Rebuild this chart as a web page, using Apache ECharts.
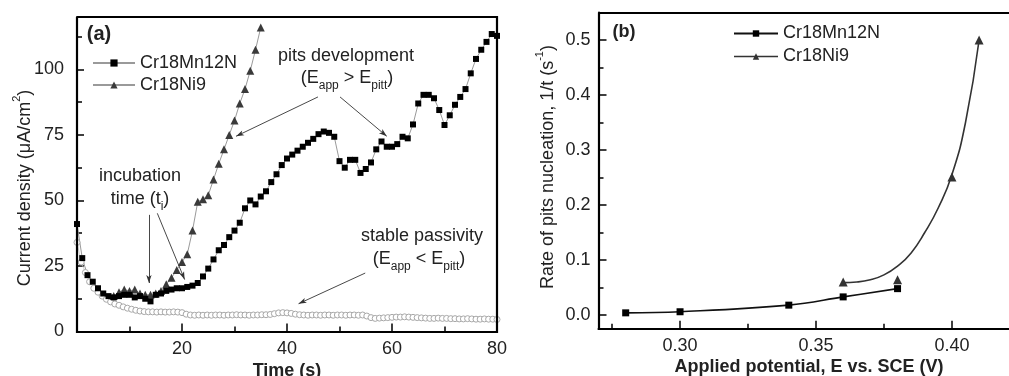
<!DOCTYPE html>
<html><head><meta charset="utf-8">
<script src="https://cdn.jsdelivr.net/npm/echarts@6/dist/echarts.min.js"></script>
<style>html,body{margin:0;padding:0;background:#fff}#c{width:1009px;height:376px}</style>
</head><body><div id="c"></div>
<script>
const FONT = "'Liberation Sans', Arial, sans-serif";
const TXT = '#222';

// ---------- Panel (a): current density vs time ----------
const mnTime = [0,1,2,3,4,5,6,7,8,9,10,11,12,13,14,15,16,17,18,19,20,21,22,23,24,25,26,27,28,29,30,31,32,33,34,35,36,37,38,39,40,41,42,43,44,45,46,47,48,49,50,51,52,53,54,55,56,57,58,59,60,61,62,63,64,65,66,67,68,69,70,71,72,73,74,75,76,77,78,79,80];
const mnCurrent = [41,28,21.5,19,16.5,14.5,13.5,13,13.5,14,
  14,13,13.5,12.5,11.5,14,14.5,15.5,16,16.5,
  16.5,17,17.5,18.5,21,24,27.5,31,33,36,
  38.5,41.5,47,50,48.5,51.5,53.5,57,60,63.5,
  66,67.5,69,70.5,72,73.5,75.3,76.3,75.8,74.3,
  65,62.5,65.5,65.5,60.5,62,64.5,69.5,72.5,70.5,
  70.5,71.5,74.3,73.7,79,87,90.3,90.3,89,84.5,
  78.8,82.5,86.5,89.5,92.5,98.5,104,107.5,110.5,113.5,
  112.8];
const niTime = [7,8,9,10,11,12,13,14,15,16,17,18,19,20,21,22,23,24,25,26,27,28,29,30,31,32,33,34,35];
const niCurrent = [13.5,15,16,15.5,16,14.5,14,14,14.5,15.5,18,20.5,23.5,26.5,29.5,38.5,49.5,50.5,52,58,64,69.5,75,80.5,87,92.5,99.5,107.5,116];
const passTime = [0,0.8,1.6,2.4,3.2,4,4.8,5.6,6.4,7.2,
  8,8.8,9.6,10.4,11.2,12,12.8,13.6,14.4,15.2,
  16,16.8,17.6,18.4,19.2,20,20.8,21.6,22.4,23.2,
  24,24.8,25.6,26.4,27.2,28,28.8,29.6,30.4,31.2,
  32,32.8,33.6,34.4,35.2,36,36.8,37.6,38.4,39.2,
  40,40.8,41.6,42.4,43.2,44,44.8,45.6,46.4,47.2,
  48,48.8,49.6,50.4,51.2,52,52.8,53.6,54.4,55.2,
  56,56.8,57.6,58.4,59.2,60,60.8,61.6,62.4,63.2,
  64,64.8,65.6,66.4,67.2,68,68.8,69.6,70.4,71.2,
  72,72.8,73.6,74.4,75.2,76,76.8,77.6,78.4,79.2,
  80];
const passCurrent = [34,26.5,22.5,19,16.5,15,13.5,12.3,11.3,10.5,
  10,9.4,8.9,8.5,8.1,7.8,7.6,7.5,7.5,7.4,
  7.5,7.4,7.4,7.5,7.4,7.2,6.6,6.3,6.2,6.3,
  6.2,6.3,6.2,6.3,6.3,6.2,6.3,6.3,6.4,6.3,
  6.3,6.2,6.3,6.3,6.4,6.4,6.5,6.8,7.1,7.2,
  7.1,6.9,6.6,6.4,6.3,6.2,6.3,6.3,6.2,6.3,
  6.3,6.2,6.3,6.3,6.2,6.3,6.3,6.2,6.3,5.9,
  5.3,5.0,5.1,5.2,5.3,5.4,5.5,5.5,5.6,5.5,
  5.4,5.3,5.2,5.1,5.0,5.0,5.1,5.0,5.0,4.9,
  4.9,4.8,4.8,4.9,4.8,4.7,4.7,4.8,4.7,4.7,
  4.6];
// annotation arrows (data coords: [t, j] start -> end)
const arrowsA = [
  [[13.7,44.5],[13.7,18.5]],
  [[15.3,45.1],[20.5,19.8]],
  [[45.9,89.5],[30.3,74.5]],
  [[50.1,89.5],[59.0,74.5]],
  [[54.9,22.3],[42.2,10.6]]
];

// ---------- Panel (b): nucleation rate vs potential ----------
const potMn = [0.28,0.30,0.34,0.36,0.38];
const rateMn = [0.004,0.006,0.018,0.033,0.048];
const potNi = [0.36,0.38,0.40,0.41];
const rateNi = [0.060,0.064,0.251,0.500];
const niFitPot = [0.360,0.365,0.370,0.375,0.380,0.385,0.390,0.395,0.400,0.405,0.410];
const niFitRate = [0.059,0.060,0.064,0.073,0.089,0.113,0.150,0.195,0.255,0.350,0.500];
const xTicksB = [0.30,0.35,0.40];
const xMinorB = [0.275,0.325,0.375];
const yTicksB = [0,0.1,0.2,0.3,0.4,0.5];
const yMinorB = [0.05,0.15,0.25,0.35,0.45];

const pairs = (xs, ys) => xs.map((x, i) => [x, ys[i]]);

const GRID_A = {left: 77, top: 17, width: 420, height: 314.5};
const GRID_B = {left: 598.5, top: 12.5, width: 412.2, height: 316.3};

const axisLine = {show: true, onZero: false, lineStyle: {color: '#000', width: 2}};
const tickStyle = {color: '#000', width: 1.5};
const lbl = {fontSize: 18, color: TXT, fontFamily: FONT};

const rich = {
  n: {fontSize: 18, lineHeight: 28, fontFamily: FONT, color: TXT},
  s: {fontSize: 12, lineHeight: 12, verticalAlign: 'bottom', fontFamily: FONT, color: TXT},
  u: {fontSize: 11, lineHeight: 11, verticalAlign: 'top', fontFamily: FONT, color: TXT},
  b: {fontSize: 18, lineHeight: 28, fontFamily: FONT, fontWeight: 'bold', color: TXT},
  B: {fontSize: 20, lineHeight: 28, fontFamily: FONT, fontWeight: 'bold', color: TXT}
};
function txt(x, y, text, rot) {
  return {type: 'text', x: x, y: y, rotation: rot || 0, silent: true,
    style: {text: text, rich: rich, textAlign: 'center', textVerticalAlign: 'middle', align: 'center', verticalAlign: 'middle', fill: TXT, font: '18px ' + FONT}};
}
// closed rectangular frame drawn as a polyline (right edge may lie just outside the canvas)
function frame(g, rightX) {
  const x0 = Math.round(g.left), y0 = Math.round(g.top);
  const x1 = rightX || Math.round(g.left + g.width), y1 = Math.round(g.top + g.height);
  return {type: 'polyline', silent: true, z: 100,
    shape: {points: [[x0, y0], [x1, y0], [x1, y1], [x0, y1], [x0, y0]]},
    style: {fill: null, stroke: '#000', lineWidth: 2.2}};
}

const option = {
  animation: false,
  backgroundColor: '#fff',
  textStyle: {fontFamily: FONT},
  grid: [GRID_A, GRID_B],
  xAxis: [
    {gridIndex: 0, type: 'value', min: 0, max: 80, interval: 20, position: 'bottom',
     axisLine: axisLine, axisTick: {show: true, inside: true, length: 8, lineStyle: tickStyle},
     minorTick: {show: true, splitNumber: 2, length: 5, lineStyle: tickStyle},
     splitLine: {show: false}, minorSplitLine: {show: false},
     axisLabel: Object.assign({margin: 9, formatter: v => v === 0 ? '' : String(v)}, lbl)},
    {gridIndex: 1, type: 'value', min: 0.27, max: 0.421, position: 'bottom',
     axisLine: axisLine, axisTick: {show: true, inside: true, length: 8, lineStyle: tickStyle, customValues: xTicksB},
     splitLine: {show: false},
     axisLabel: Object.assign({margin: 8, customValues: xTicksB, formatter: v => v.toFixed(2)}, lbl)},
    {gridIndex: 1, type: 'value', min: 0.27, max: 0.421, position: 'bottom',
     axisLine: {show: false, onZero: false}, axisTick: {show: true, inside: true, length: 5, lineStyle: tickStyle, customValues: xMinorB},
     splitLine: {show: false}, axisLabel: {show: false}}
  ],
  yAxis: [
    {gridIndex: 0, type: 'value', min: 0, max: 120, interval: 25, position: 'left',
     axisLine: axisLine, axisTick: {show: true, inside: true, length: 7, lineStyle: tickStyle},
     minorTick: {show: true, splitNumber: 2, length: 5, lineStyle: tickStyle},
     splitLine: {show: false}, minorSplitLine: {show: false},
     axisLabel: Object.assign({margin: 13, showMaxLabel: false}, lbl)},
    {gridIndex: 1, type: 'value', min: -0.025, max: 0.55, position: 'left',
     axisLine: axisLine, axisTick: {show: true, inside: true, length: 8, lineStyle: tickStyle, customValues: yTicksB},
     splitLine: {show: false},
     axisLabel: Object.assign({margin: 8, customValues: yTicksB, formatter: v => v.toFixed(1)}, lbl)},
    {gridIndex: 1, type: 'value', min: -0.025, max: 0.55, position: 'left',
     axisLine: {show: false, onZero: false}, axisTick: {show: true, inside: true, length: 5, lineStyle: tickStyle, customValues: yMinorB},
     splitLine: {show: false}, axisLabel: {show: false}}
  ],
  legend: [
    {orient: 'vertical', left: 87, top: 47, itemWidth: 42, itemHeight: 9, itemGap: 0,
     data: ['Cr18Mn12N', 'Cr18Ni9'], selectedMode: false,
     textStyle: {fontSize: 18, color: TXT, fontFamily: FONT, lineHeight: 22}},
    {orient: 'vertical', left: 728, top: 17, itemWidth: 44, itemHeight: 8, itemGap: 0,
     data: [{name: 'Cr18Mn12N (b)'}, {name: 'Cr18Ni9 (b)', lineStyle: {opacity: 1, color: '#333', width: 1.6}}],
     selectedMode: false,
     formatter: n => n.replace(' (b)', ''),
     textStyle: {fontSize: 18, color: TXT, fontFamily: FONT, lineHeight: 23}}
  ],
  series: [
    {name: 'passive', type: 'line', xAxisIndex: 0, yAxisIndex: 0, data: pairs(passTime, passCurrent),
     symbol: 'circle', symbolSize: 6, showAllSymbol: true,
     itemStyle: {color: '#fff', borderColor: '#a8a8a8', borderWidth: 1},
     lineStyle: {color: '#cccccc', width: 0.8}, emphasis: {disabled: true},
     markLine: {silent: true, animation: false, symbol: ['none', 'arrow'], symbolSize: [4, 8],
       label: {show: false}, lineStyle: {color: '#333', width: 0.9, type: 'solid'},
       emphasis: {disabled: true},
       data: arrowsA.map(a => [{coord: a[0]}, {coord: a[1]}])}},
    {name: 'Cr18Ni9', type: 'line', xAxisIndex: 0, yAxisIndex: 0, data: pairs(niTime, niCurrent),
     symbol: 'triangle', symbolSize: 8, showAllSymbol: true,
     itemStyle: {color: '#3a3a3a'}, lineStyle: {color: '#9a9a9a', width: 1}, emphasis: {disabled: true}},
    {name: 'Cr18Mn12N', type: 'line', xAxisIndex: 0, yAxisIndex: 0, data: pairs(mnTime, mnCurrent),
     symbol: 'rect', symbolSize: 6, showAllSymbol: true, clip: false,
     itemStyle: {color: '#000'}, lineStyle: {color: '#9a9a9a', width: 1}, emphasis: {disabled: true}},
    {name: 'Cr18Mn12N (b)', type: 'line', xAxisIndex: 1, yAxisIndex: 1, data: pairs(potMn, rateMn),
     smooth: 0.4, symbol: 'rect', symbolSize: 7,
     itemStyle: {color: '#000'}, lineStyle: {color: '#111', width: 1.6}, emphasis: {disabled: true}},
    {name: 'Ni fit', type: 'line', xAxisIndex: 1, yAxisIndex: 1, data: pairs(niFitPot, niFitRate),
     smooth: 0.5, symbol: 'none',
     lineStyle: {color: '#333', width: 1.6}, emphasis: {disabled: true}},
    {name: 'Cr18Ni9 (b)', type: 'line', xAxisIndex: 1, yAxisIndex: 1, data: pairs(potNi, rateNi),
     symbol: 'triangle', symbolSize: 9,
     itemStyle: {color: '#333'}, lineStyle: {color: '#333', width: 1.6, opacity: 0}, emphasis: {disabled: true}}
  ],
  graphic: {elements: [
    frame(GRID_A),
    frame(GRID_B, 1011),
    txt(99, 34, '{B|(a)}'),
    txt(140, 176, '{n|incubation}'),
    txt(140, 199, '{n|time (t}{s|i}{n|)}'),
    txt(346, 56, '{n|pits development}'),
    txt(347, 78, '{n|(E}{s|app}{n| > E}{s|pitt}{n|)}'),
    txt(422, 236, '{n|stable passivity}'),
    txt(419, 259, '{n|(E}{s|app}{n| < E}{s|pitt}{n|)}'),
    txt(25, 188, '{n|Current density (μA/cm}{u|2}{n|)}', Math.PI / 2),
    txt(287, 371, '{b|Time (s)}'),
    txt(624, 32, '{b|(b)}'),
    txt(548, 167, '{n|Rate of pits nucleation, 1/t (s}{u|-1}{n|)}', Math.PI / 2),
    txt(809, 367, '{b|Applied potential, E vs. SCE (V)}')
  ]}
};
const chart = echarts.init(document.getElementById('c'), null, {renderer: 'canvas'});
chart.setOption(option);
</script></body></html>
